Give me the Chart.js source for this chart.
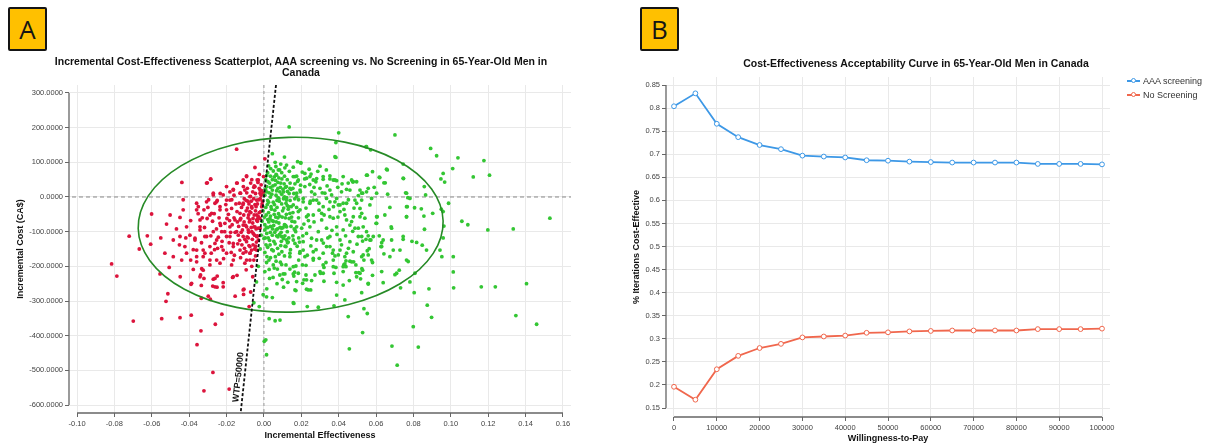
<!DOCTYPE html>
<html>
<head>
<meta charset="utf-8">
<script src="https://cdn.jsdelivr.net/npm/chart.js@4.4.1/dist/chart.umd.min.js"></script>
<style>
  body { margin: 0; background: #fff; width: 1205px; height: 444px; overflow: hidden; position: relative; font-family: 'Liberation Sans', Arial, sans-serif; }
  canvas { position: absolute; top: 0; }
  #chartA { left: 0; }
  #chartB { left: 600px; }
  .badge { position: absolute; top: 7px; width: 35px; height: 40px; background: #ffc000; border: 2px solid #151515; border-radius: 2px; font: 26px 'Open Sans', 'Liberation Sans', sans-serif; line-height: 40px; text-align: center; color: #151515; }
  #badgeA { left: 8px; }
  #badgeB { left: 640px; }
  .title { position: absolute; font-weight: bold; font-size: 10.5px; line-height: 11px; text-align: center; color: #111; white-space: nowrap; }
  #titleA { left: 0; width: 602px; top: 56px; }
  #titleB { left: 716px; width: 400px; top: 58px; }
  .leg { position: absolute; left: 1127px; font-size: 9px; color: #333; white-space: nowrap; line-height: 10px; }
  .sym { display: inline-block; position: relative; width: 13px; height: 8px; margin-right: 3px; vertical-align: -1px; }
  .sym::before { content: ''; position: absolute; left: 0; right: 0; top: 3px; height: 1.5px; background: var(--c); }
  .sym::after { content: ''; position: absolute; left: 4px; top: 1px; width: 3px; height: 3px; border: 1px solid var(--c); border-radius: 50%; background: #fff; }
</style>
</head>
<body>
<canvas id="chartA" width="600" height="444"></canvas>
<canvas id="chartB" width="605" height="444"></canvas>
<div class="badge" id="badgeA">A</div>
<div class="badge" id="badgeB">B</div>
<div class="title" id="titleA">Incremental Cost-Effectiveness Scatterplot, AAA screening vs. No Screening in 65-Year-Old Men in<br>Canada</div>
<div class="title" id="titleB">Cost-Effectiveness Acceptability Curve in 65-Year-Old Men in Canada</div>
<div class="leg" style="top:76px"><span class="sym" style="--c:#3d98e6"></span>AAA screening</div>
<div class="leg" style="top:90px"><span class="sym" style="--c:#f0674d"></span>No Screening</div>
<script>
// Panel A: PSA iterations, [incremental effectiveness, incremental cost]
const iterations = [
  [-0.0146,138],[-0.0048,85],[-0.0093,61],[-0.0439,42],[-0.0285,52],[-0.0303,41],[-0.0601,-49],[-0.0521,-78],[-0.0721,-113],[-0.0624,-112],
  [-0.0606,-136],[-0.0667,-150],[-0.0815,-193],[-0.0787,-228],[-0.0556,-222],[-0.0507,-203],[-0.0448,-230],[-0.0378,-209],[-0.0333,-207],[-0.0339,-225],
  [-0.0321,-235],[-0.025,-228],[-0.0271,-237],[-0.0168,-232],[-0.0144,-226],[-0.0514,-279],[-0.0524,-301],[-0.039,-252],[-0.0335,-255],[-0.0274,-257],
  [-0.0251,-260],[-0.0218,-247],[-0.0335,-292],[-0.0298,-286],[-0.0287,-295],[-0.0154,-286],[-0.0107,-266],[-0.0109,-281],[-0.0071,-274],[-0.0079,-316],
  [-0.0699,-358],[-0.0547,-351],[-0.0449,-348],[-0.0389,-341],[-0.0225,-338],[-0.026,-367],[-0.0337,-386],[-0.0358,-426],[-0.0273,-506],[-0.0321,-559],
  [-0.0186,-554],
  [-0.0449,-59],[-0.0432,-37],[-0.0414,-86],[-0.036,-18],[-0.0351,-28],[-0.0342,-66],[-0.0321,-37],[-0.0271,6],[-0.028,-47],[-0.0253,-14],
  [-0.0235,-28],[-0.0218,6],[-0.02,-37],[-0.0182,-9],[-0.0164,20],[-0.0143,40],[-0.0125,11],[-0.0111,49],[-0.0089,25],[-0.0071,40],
  [-0.0054,28],[-0.0036,49],[-0.0021,20],[-0.0002,59],[-0.0004,11],
  [-0.0485,-124],[-0.0449,-114],[-0.0423,-143],[-0.0396,-110],[-0.0369,-124],[-0.036,-153],[-0.0342,-95],[-0.0316,-162],[-0.0307,-114],[-0.0289,-143],
  [-0.0271,-100],[-0.0253,-124],[-0.0235,-76],[-0.0226,-143],[-0.02,-114],[-0.0182,-86],[-0.0164,-134],[-0.0146,-100],[-0.0128,-66],[-0.0111,-114],
  [-0.0093,-86],[-0.0075,-143],[-0.0057,-105],[-0.0039,-66],[-0.0021,-90],
  [-0.053,-162],[-0.0485,-172],[-0.044,-182],[-0.0414,-162],[-0.036,-187],[-0.0325,-172],[-0.0289,-196],[-0.0253,-182],[-0.02,-162],[-0.0164,-182],
  [-0.0128,-153],[-0.0093,-182],[-0.0075,-162],[-0.0039,-153],[-0.003,-124],
  [-0.0307,40],[-0.0285,51],[-0.0271,11],[-0.0307,-14],[-0.0262,-18],[-0.036,-37],[-0.0289,-52],[-0.0235,-37],[-0.02,-9],[-0.0182,15],
  [-0.0146,40],[-0.0128,11],[-0.0111,-18],[-0.0093,59],[-0.0102,20],[-0.0075,1],[-0.0066,-28],[-0.0048,30],[-0.0039,-9],[-0.003,49],
  [-0.0021,11],[-0.0012,-28],[-0.003,-57],[-0.0048,-86],[-0.0039,-114],[-0.0075,-66],[-0.0084,-95],[-0.0111,-81],[-0.0128,-47],[-0.0155,-66],
  [-0.0173,-33],[-0.0209,-76],[-0.0226,-100],[-0.0182,-114],[-0.0137,-110],[-0.0093,-129],[-0.0066,-153],[-0.0111,-162],[-0.0164,-143],[-0.0218,-153],
  [-0.0262,-134],[-0.0316,-114],[-0.0342,-86],[-0.0369,-119],[-0.0325,-153],[-0.036,-172],[-0.0289,-182],[-0.0235,-191],[-0.0173,-196],[-0.0102,-191],
  [-0.0075,-182],[-0.0325,-211],[-0.0342,-230],[-0.0262,-235],[-0.0218,-259],[-0.0164,-230],[-0.0111,-268],[-0.0262,-259],[-0.0387,-249],
  [-0.0045,-40],[-0.0035,-20],[-0.0055,-5],[-0.002,-5],[-0.0015,5],[-0.006,15],[-0.0025,25],[-0.007,-45],[-0.0085,-60],[-0.006,-75],
  [-0.005,-110],[-0.004,-130],[-0.0065,-100],[-0.0095,-40],[-0.008,-20],[-0.0105,-5],[-0.012,-30],[-0.0135,-85],[-0.0115,-95],[-0.009,-115],
  [-0.016,-60],[-0.015,-20],[-0.019,-50],[-0.017,-80],[-0.021,-100],[-0.014,-135],[-0.0175,-160],[-0.008,-140],[-0.0125,-175],[-0.0035,-70],
  [-0.0025,-45],[-0.001,-20],[-0.003,-90],[-0.005,-150],[-0.0065,-200],[-0.0045,-170],[-0.0095,-210],[-0.006,-230],[-0.013,-125],[-0.0275,-70],
  [-0.03,-30],[-0.033,-60],[-0.024,-60],[-0.025,-10],[-0.02,30],[-0.016,5],[-0.011,30],[-0.0095,-10],[-0.0045,10],[-0.0065,50],
  [-0.0025,65],[-0.0015,35],
  [-0.0008,-12],[-0.0018,-42],[-0.0028,-8],[-0.0038,-52],[-0.0048,-22],[-0.0058,-62],[-0.0068,-12],[-0.0078,-72],[-0.0088,-32],[-0.0098,-82],
  [-0.0108,-52],[-0.0012,18],[-0.0022,-62],[-0.0032,42],[-0.0042,-92],[-0.0052,32],[-0.0062,-122],[-0.0072,2],[-0.0082,-102],[-0.0092,12],
  [-0.0102,-122],[-0.0112,-22],[-0.0034,-112],[-0.0044,-142],[-0.0054,-182],[-0.0074,-162],[-0.0084,-118],[-0.0104,-148],[-0.0124,-62],[-0.0144,-42],
  [-0.0154,-102],[-0.0164,22],[-0.0184,-68],[-0.0204,-22],[-0.0224,-128],[-0.0234,10],[-0.0254,-92],[-0.0264,-152],[-0.0284,-112],[-0.0304,-62],
  [-0.0468,-92],[-0.0452,-138],[-0.0418,-118],[-0.0392,-68],[-0.0378,-152],[-0.0352,-48],[-0.0334,-132],[-0.0318,-88],[-0.0296,-8],[-0.0282,-162],
  [-0.0266,-48],[-0.0248,-148],[-0.0232,-82],[-0.0216,-178],[-0.0198,-62],[-0.0186,-132],[-0.0172,-8],[-0.0158,-168],[-0.0142,-72],[-0.0132,-18],
  [-0.0118,-138],[-0.0106,-72],[-0.0096,-158],[-0.0086,-12],[-0.0076,-42],[-0.0068,-88],[-0.0058,-138],[-0.0052,-52],[-0.0042,-28],[-0.0032,-62],
  [-0.0054,-86],[-0.0064,-32],[-0.0082,-52],[-0.0122,-102],[-0.0178,-102],[-0.0244,-116],[-0.0392,-182],[-0.0432,-8],[-0.0502,-52],[-0.0552,-118],
  [0.0014,-189],[0.0028,-209],[0.005,-196],[0.0103,-222],[-0.0004,-282],[0.0014,-288],[0.0028,-351],[0.006,-357],[0.0086,-355],[-0.0025,-316],
  [-0.0054,-305],[0.0002,-416],[0.001,-412],[0.0014,-455],[0.016,-228],[0.0157,-305],[0.0171,-270],
  [0.0112,-222],[0.0157,-222],[0.0175,-244],[0.0207,-249],[0.0214,-239],[0.0228,-266],[0.025,-268],[0.0255,-241],[0.0273,-225],[0.0225,-225],
  [0.0171,-199],[0.0303,-220],[0.0321,-203],[0.0321,-243],[0.0375,-220],[0.0385,-203],[0.0389,-246],[0.0428,-195],[0.0439,-201],[0.0457,-241],
  [0.0492,-218],[0.0514,-220],[0.0517,-236],[0.0528,-211],[0.0523,-276],[0.0558,-251],[0.0581,-226],[0.0581,-189],[0.0638,-247],[0.0701,-224],
  [0.0724,-211],[0.0731,-262],[0.0781,-245],[0.0772,-186],[0.016,-307],[0.0232,-316],[0.0291,-318],[0.0375,-314],[0.0389,-283],[0.0433,-297],
  [0.0451,-345],[0.0535,-322],[0.0553,-336],[0.0528,-391],[0.0457,-438],[0.0685,-430],[0.0713,-485],[0.0799,-374],[0.0826,-433],[0.0804,-276],
  [0.0874,-312],[0.0883,-265],[0.0897,-347],[0.1013,-216],[0.1015,-262],[0.1163,-259],[0.1238,-259],[0.1405,-250],[0.1348,-342],[0.1459,-367],
  [0.0135,202],[0.04,185],[0.0701,179],[0.0385,157],[0.0385,114],[0.0546,145],[0.0571,136],[0.0892,140],[0.0924,119],[0.1038,113],
  [0.1177,105],[0.0198,98],[0.03,89],[0.0242,80],[0.112,58],[0.1207,63],[0.101,82],[0.0959,68],[0.0947,52],[0.0967,43],
  [0.0745,95],[0.066,78],[0.0747,53],[0.0581,73],[0.0553,63],[0.0478,44],[0.062,56],[0.0649,41],[0.059,28],[0.0858,30],
  [0.0865,6],[0.0758,12],[0.077,-2],[0.0662,8],[0.0988,-18],[0.0949,-35],[0.0959,-42],[0.0903,-47],[0.0856,-55],[0.0806,-31],
  [0.0842,-34],[0.0763,-57],[0.0767,-28],[0.0674,-30],[0.1059,-70],[0.1091,-80],[0.1198,-95],[0.1334,-92],[0.153,-61],[0.0859,-93],
  [0.0963,-84],[0.0959,-118],[0.1013,-172],[0.0952,-172],[0.0942,-153],[0.087,-153],[0.0847,-139],[0.0817,-131],[0.0792,-128],[0.0745,-122],
  [0.0692,-153],[0.063,-132],[0.0626,-143],[0.0642,-164],[0.0617,-112],[0.0681,-86],[0.0606,-57],[0.06,-76],[0.0558,-112],
  [0.0546,-122],[0.0528,-127],[0.0572,-124],[0.0563,-149],[0.0553,-155],[0.0535,-182],[0.0524,-207],[0.0507,-218],[0.0492,-196],[0.048,-187],
  [0.046,-185],[0.0439,-184],[0.0433,-193],[0.0424,-201],[0.0407,-153],[0.038,-170],[0.0367,-162],[0.0353,-143],[0.0332,-189],[0.03,-215],
  [0.0264,-182],[0.0225,-197],[0.0164,-217],[0.0139,-172],[0.0118,-143],[0.0095,-114],
  [0.0157,59],[0.0184,49],[0.0228,54],[0.0264,49],[0.0282,53],[0.0317,59],[0.0353,52],[0.0371,49],[0.0389,47],[0.0451,40],
  [0.0475,44],[0.0139,25],[0.0193,20],[0.0219,30],[0.0255,15],[0.03,25],[0.0326,11],[0.0353,20],[0.0415,15],[0.046,20],
  [0.0514,20],[0.0528,11],[0.0558,25],[0.0121,-9],[0.0175,1],[0.021,-14],[0.0264,-9],[0.0335,-4],[0.038,-14],[0.0398,-23],
  [0.0424,-18],[0.0496,-18],[0.0523,-9],[0.0567,-23],[0.0514,-33],[0.0139,-47],[0.0184,-42],[0.0228,-57],[0.0264,-52],[0.0309,-47],
  [0.0353,-57],[0.0407,-42],[0.0442,-66],[0.0478,-57],[0.0523,-47],[0.0603,-57],[0.054,-61],[0.0121,-86],[0.0166,-95],[0.0202,-90],
  [0.0246,-86],[0.0291,-100],[0.0335,-90],[0.0389,-86],[0.0424,-95],[0.046,-81],[0.0487,-90],[0.0531,-86],[0.0121,-124],[0.0166,-134],
  [0.021,-129],[0.0255,-119],[0.0309,-124],[0.0353,-114],[0.0407,-124],[0.046,-129],[0.0505,-114],[0.0139,-162],[0.0193,-158],[0.0219,-172],
  [0.0264,-158],[0.0317,-162],[0.0371,-182],[0.0442,-162],[0.0478,-158],[0.0531,-167],[0.0576,-182],
  [0.001,50],[0.002,70],[0.0035,60],[0.005,75],[0.0065,65],[0.008,55],[0.0095,70],[0.011,60],[0.0125,50],[0.014,40],
  [0.0015,30],[0.003,40],[0.0045,20],[0.006,35],[0.0075,25],[0.009,40],[0.0105,15],[0.012,30],[0.0135,10],[0.0155,25],
  [0.0005,5],[0.002,-10],[0.0035,0],[0.005,-15],[0.0065,5],[0.008,-5],[0.0095,-20],[0.011,0],[0.0125,-25],[0.014,-10],
  [0.0165,-5],[-0.0005,-40],[0.001,-30],[0.0025,-45],[0.004,-35],[0.0055,-50],[0.007,-30],[0.0085,-55],[0.01,-40],[0.0115,-60],
  [0.013,-35],[0.0155,-45],[-0.001,-70],[0.0005,-80],[0.002,-65],[0.0035,-85],[0.005,-70],[0.0065,-95],[0.008,-75],[0.0095,-90],
  [0.011,-80],[0.0125,-100],[0.015,-70],[-0.0015,-110],[0.0,-120],[0.0015,-105],[0.003,-125],[0.0045,-110],[0.006,-135],[0.0075,-115],
  [0.009,-140],[0.0105,-120],[0.013,-130],[-0.002,-150],[0.0005,-160],[0.002,-145],[0.0035,-175],[0.005,-155],[0.0065,-185],[0.008,-165],
  [0.0095,-195],[0.011,-170],[-0.003,-200],[0.0005,-215],[0.003,-235],[0.0055,-205],[0.007,-250],[0.0085,-225],[0.0105,-260],[-0.004,-245],
  [0.0015,-265],[0.0045,-290],[0.0025,90],[0.006,100],[0.0005,110],[0.0045,125],[0.009,95],[0.011,115],[0.0015,15],[0.0035,-55],
  [0.0075,-60],[0.0005,-95],[0.0025,-15],[0.0045,50],[0.007,-10],[0.0085,15],[0.0105,-5],[0.012,-50],[0.0145,-85],[0.016,10],
  [0.0175,-30],[0.018,45],[0.0185,-60],[0.017,-100],[0.019,-130],[0.0195,15],
  [0.038,116],[0.0196,99],[0.0549,145],[0.0656,80],[0.0549,63],[0.0617,57],[0.0745,54],[0.0642,41],[0.0496,44],[0.0469,49],
  [0.0424,59],[0.038,49],[0.0353,61],[0.0317,51],[0.0278,44],[0.0246,59],[0.0219,68],[0.0166,59],[0.0763,11],[0.0781,-4],
  [0.0763,-57],[0.0603,11],[0.0576,-4],[0.0549,15],[0.0523,11],[0.0487,-9],[0.0442,-18],[0.0407,-23],[0.0389,-4],[0.0353,-14],
  [0.0317,-28],[0.0282,-9],[0.0246,-18],[0.021,-4],[0.0175,11],[0.0157,-23],[0.0193,-37],[0.0237,-52],[0.0309,-66],[0.0371,-61],
  [0.0433,-52],[0.0469,-71],[0.0514,-57],[0.0505,-90],[0.0549,-100],[0.0585,-114],[0.0523,-114],[0.0603,-76],[0.0683,-90],[0.0638,-124],
  [0.063,-143],[0.0567,-124],[0.0558,-167],[0.0523,-172],[0.0469,-187],[0.0433,-172],[0.0398,-167],[0.0371,-153],[0.0335,-143],[0.0282,-124],
  [0.0228,-105],[0.0175,-86],[0.0157,-124],[0.021,-153],[0.0264,-177],[0.0317,-196],[0.0371,-201],[0.0424,-215],[0.0496,-230],[0.0157,-201],
  [0.0184,-220],[0.0228,-239],[0.0166,-268],[0.0237,-268],[0.0317,-220],[0.0424,-254],[0.0558,-249],[0.063,-215],[0.071,-220],[0.0763,-182],
  [0.0808,-220],[0.0674,-172],[0.0728,-153],[0.0683,-124],[0.0745,-114],[0.0763,-28],[0.0647,-52],
  [0.0077,78],[0.0121,92],[0.0157,86],[0.018,102],[0.0068,63],
  [0.0008,22],[0.0018,-22],[0.0028,12],[0.0038,-28],[0.0048,32],[0.0058,-38],[0.0068,18],[0.0078,-48],[0.0088,28],[0.0098,-58],
  [0.0108,38],[0.0118,-18],[0.0012,-52],[0.0022,44],[0.0032,-62],[0.0042,8],[0.0052,-82],[0.0062,48],[0.0072,-92],[0.0082,-12],
  [0.0092,-102],[0.0102,22],[0.0112,-112],[0.0122,-2],[0.0003,-58],[0.0013,-88],[0.0023,-118],[0.0033,-138],[0.0043,-68],[0.0053,-128],
  [0.0063,-58],[0.0073,-148],[0.0083,-108],[0.0093,-128],[0.0113,-142],[0.0133,-118],[0.0015,62],[0.0035,28],[0.0055,58],[0.0075,42],
  [0.0095,8],[0.0115,28],[0.0135,-62],[0.0145,22],[0.0155,-112],[0.0165,-72],[0.0175,60],[0.0185,-8],
  [0.0042,-152],[0.0061,-172],[0.0027,-182],[0.0088,-188],[0.0118,-196],[0.0139,-208],[0.0072,-208],[0.0049,-232],[0.0098,-238],[0.0128,-246],
  [0.0186,-182],[0.0206,-196],[0.0232,-168],[0.0251,-141],[0.0279,-152],[0.0296,-177],[0.0318,-133],[0.0342,-118],[0.0364,-96],[0.0391,-108],
  [0.0415,-138],[0.0437,-112],[0.0452,-148],[0.0475,-99],[0.0498,-136],[0.0186,-118],[0.0214,-78],[0.0238,-68],[0.0268,-72],[0.0295,-38],
  [0.0322,-52],[0.0348,-36],[0.0372,-28],[0.0396,-58],[0.0428,-36],[0.0452,-8],[0.0482,-32],[0.0505,4],[0.0225,-32],[0.0248,-12],
  [0.0272,8],[0.0294,-18],[0.0312,12],[0.0338,32],[0.0362,6],[0.0395,28],[0.0418,38],[0.0442,22],[0.0196,34],[0.0218,52],
  [0.0245,36],[0.0268,28],[0.0205,72],[0.0252,66],[0.0288,74],[0.0334,78],[0.0132,-28],[0.0148,-58],[0.0162,-92],[0.0178,-142],
  [0.0192,-162],[0.0208,-112],[0.0116,-82],[0.0126,-132],[0.0142,-152],[0.0102,-88],[0.0096,-158],[0.0086,-88],[0.0068,-112],[0.0058,-102],
  [0.0034,-102],[0.0021,-88],[0.0011,-138],[0.0007,-118],[0.0016,-172],[0.0046,-92],[0.0056,-22],[0.0066,-72],[0.0076,-2],[0.0096,52],
  [0.0106,-32],[0.0126,16],[0.0146,-28],[0.0166,38],[0.0026,-72],[0.0036,82],[0.0064,88],[0.0084,78],[0.0136,74],[0.0112,84]
];
const wtpThreshold = 50000;
const effTicks = [-0.10, -0.08, -0.06, -0.04, -0.02, 0.00, 0.02, 0.04, 0.06, 0.08, 0.10, 0.12, 0.14, 0.16];
const costTicks = [-600, -500, -400, -300, -200, -100, 0, 100, 200, 300];
// 95% confidence ellipse: centre and semi-axes in data units
const ellipseCentre = [0.0143, -80];
const ellipseRadii = [0.0816, 252];

// Panel B: acceptability curve
const wtpValues = [0, 5000, 10000, 15000, 20000, 25000, 30000, 35000, 40000, 45000, 50000,
  55000, 60000, 65000, 70000, 75000, 80000, 85000, 90000, 95000, 100000];
const aaaScreening = [0.804, 0.832, 0.766, 0.737, 0.720, 0.711, 0.697, 0.695, 0.693, 0.687, 0.686,
  0.684, 0.683, 0.682, 0.682, 0.682, 0.682, 0.679, 0.679, 0.679, 0.678];
const noScreening = [0.196, 0.168, 0.234, 0.263, 0.280, 0.289, 0.303, 0.305, 0.307, 0.313, 0.314,
  0.316, 0.317, 0.318, 0.318, 0.318, 0.318, 0.321, 0.321, 0.321, 0.322];
const wtpTicks = [0, 10000, 20000, 30000, 40000, 50000, 60000, 70000, 80000, 90000, 100000];
const probTicks = [0.15, 0.2, 0.25, 0.3, 0.35, 0.4, 0.45, 0.5, 0.55, 0.6, 0.65, 0.7, 0.75, 0.8, 0.85];

const FONT = "'Liberation Sans', Arial, sans-serif";
Chart.defaults.font.family = FONT;
Chart.defaults.color = '#444';

// d3-style axis domain lines, only between first and last tick
const domainAxes = {
  id: 'domainAxes',
  afterDraw(chart, args, opts) {
    const { ctx, chartArea, scales: { x, y } } = chart;
    ctx.save();
    ctx.strokeStyle = '#666';
    ctx.lineWidth = 1.3;
    ctx.beginPath();
    ctx.moveTo(chartArea.left, y.getPixelForValue(opts.y[1]));
    ctx.lineTo(chartArea.left, y.getPixelForValue(opts.y[0]));
    ctx.moveTo(x.getPixelForValue(opts.x[0]), chartArea.bottom);
    ctx.lineTo(x.getPixelForValue(opts.x[1]), chartArea.bottom);
    ctx.stroke();
    ctx.restore();
  }
};

const iceDecor = {
  id: 'iceDecor',
  beforeDatasetsDraw(chart) {
    const { ctx, chartArea, scales: { x, y } } = chart;
    ctx.save();
    ctx.strokeStyle = '#888';
    ctx.lineWidth = 1;
    ctx.setLineDash([4, 3]);
    ctx.beginPath();
    ctx.moveTo(chartArea.left + 3, y.getPixelForValue(0));
    ctx.lineTo(chartArea.right, y.getPixelForValue(0));
    ctx.stroke();
    ctx.setLineDash([3, 3]);
    ctx.strokeStyle = '#999';
    ctx.beginPath();
    ctx.moveTo(x.getPixelForValue(0), chartArea.top);
    ctx.lineTo(x.getPixelForValue(0), chartArea.bottom);
    ctx.stroke();
    ctx.restore();
  },
  afterDatasetsDraw(chart) {
    const { ctx, scales: { x, y } } = chart;
    ctx.save();
    // confidence ellipse
    const cx = x.getPixelForValue(ellipseCentre[0]);
    const cy = y.getPixelForValue(ellipseCentre[1]);
    const rx = x.getPixelForValue(ellipseCentre[0] + ellipseRadii[0]) - cx;
    const ry = cy - y.getPixelForValue(ellipseCentre[1] + ellipseRadii[1]);
    ctx.strokeStyle = '#268a26';
    ctx.lineWidth = 1.6;
    ctx.beginPath();
    ctx.ellipse(cx, cy, rx, ry, -0.025, 0, Math.PI * 2);
    ctx.stroke();
    // WTP threshold line
    const top = y.max, bottom = y.min;
    const x1 = x.getPixelForValue(top / wtpThreshold), y1 = y.getPixelForValue(top);
    const x2 = x.getPixelForValue(bottom / wtpThreshold), y2 = y.getPixelForValue(bottom);
    ctx.strokeStyle = '#111';
    ctx.lineWidth = 1.8;
    ctx.setLineDash([3, 2]);
    ctx.beginPath();
    ctx.moveTo(x1, y1);
    ctx.lineTo(x2, y2);
    ctx.stroke();
    ctx.setLineDash([]);
    const lc = -520;
    const lx = x.getPixelForValue(lc / wtpThreshold) - 6, ly = y.getPixelForValue(lc);
    ctx.translate(lx, ly);
    ctx.rotate(Math.atan2(y1 - y2, x1 - x2));
    ctx.fillStyle = '#111';
    ctx.font = 'bold 9px ' + FONT;
    ctx.textAlign = 'center';
    ctx.textBaseline = 'middle';
    ctx.fillText('WTP=' + wtpThreshold, 0, 0);
    ctx.restore();
  }
};

const gridStyle = { color: '#e9e9e9', lineWidth: 1, tickColor: '#666', tickLength: 4 };
const tickFont = { size: 7.5 };
const titleFont = { size: 9, weight: 'bold' };

new Chart(document.getElementById('chartA'), {
  type: 'scatter',
  data: {
    datasets: [{
      data: iterations.map(([e, c]) => ({ x: e, y: c })),
      pointRadius: 1.9,
      pointBorderWidth: 0,
      pointBackgroundColor: (c) => (c.raw && c.raw.y > wtpThreshold * c.raw.x) ? '#dc143c' : '#33c633',
    }]
  },
  options: {
    responsive: false,
    animation: false,
    layout: { padding: { top: 85, right: 29, left: 0, bottom: 0 } },
    plugins: {
      legend: { display: false },
      tooltip: { enabled: false },
      domainAxes: { x: [effTicks[0], effTicks[effTicks.length - 1]], y: [costTicks[0], costTicks[costTicks.length - 1]] },
    },
    scales: {
      x: {
        type: 'linear', min: -0.1043, max: 0.1643,
        afterBuildTicks: (s) => { s.ticks = effTicks.map((v) => ({ value: v })); },
        afterFit: (s) => { s.height = 31; },
        ticks: { font: tickFont, padding: 2, maxRotation: 0, callback: (v) => v.toFixed(2) },
        grid: gridStyle, border: { display: false },
        title: { display: true, text: 'Incremental Effectiveness', color: '#111', font: titleFont, padding: { top: 0, bottom: 2.6 } },
      },
      y: {
        type: 'linear', min: -623, max: 323,
        afterBuildTicks: (s) => { s.ticks = costTicks.map((v) => ({ value: v })); },
        afterFit: (s) => { s.width = 69; },
        ticks: { font: tickFont, padding: 2, callback: (v) => v.toFixed(4) },
        grid: gridStyle, border: { display: false },
        title: { display: true, text: 'Incremental Cost (CA$)', color: '#111', font: titleFont, padding: { top: 15.5, bottom: 0 } },
      }
    }
  },
  plugins: [domainAxes, iceDecor]
});

new Chart(document.getElementById('chartB'), {
  type: 'line',
  data: {
    datasets: [
      {
        label: 'AAA screening',
        data: wtpValues.map((w, i) => ({ x: w, y: aaaScreening[i] })),
        borderColor: '#3d98e6', borderWidth: 1.8,
        pointRadius: 2.4, pointBackgroundColor: '#fff', pointBorderColor: '#3d98e6', pointBorderWidth: 1,
      },
      {
        label: 'No Screening',
        data: wtpValues.map((w, i) => ({ x: w, y: noScreening[i] })),
        borderColor: '#f0674d', borderWidth: 1.8,
        pointRadius: 2.4, pointBackgroundColor: '#fff', pointBorderColor: '#f0674d', pointBorderWidth: 1,
      }
    ]
  },
  options: {
    responsive: false,
    animation: false,
    layout: { padding: { top: 77, right: 95, left: 0, bottom: 0 } },
    plugins: {
      legend: { display: false },
      tooltip: { enabled: false },
      domainAxes: { x: [wtpTicks[0], wtpTicks[wtpTicks.length - 1]], y: [probTicks[0], probTicks[probTicks.length - 1]] },
    },
    scales: {
      x: {
        type: 'linear', min: -1869, max: 101869,
        afterBuildTicks: (s) => { s.ticks = wtpTicks.map((v) => ({ value: v })); },
        afterFit: (s) => { s.height = 27; },
        ticks: { font: tickFont, padding: 2, maxRotation: 0, callback: (v) => String(v) },
        grid: gridStyle, border: { display: false },
        title: { display: true, text: 'Willingness-to-Pay', color: '#111', font: titleFont, padding: { top: 0, bottom: 0 } },
      },
      y: {
        type: 'linear', min: 0.1305, max: 0.8674,
        afterBuildTicks: (s) => { s.ticks = probTicks.map((v) => ({ value: v })); },
        afterFit: (s) => { s.width = 66; },
        ticks: { font: tickFont, padding: 2, callback: (v) => String(+v.toFixed(2)) },
        grid: gridStyle, border: { display: false },
        title: { display: true, text: '% Iterations Cost-Effective', color: '#111', font: titleFont, padding: { top: 31.5, bottom: 0 } },
      }
    }
  },
  plugins: [domainAxes]
});
</script>
</body>
</html>
